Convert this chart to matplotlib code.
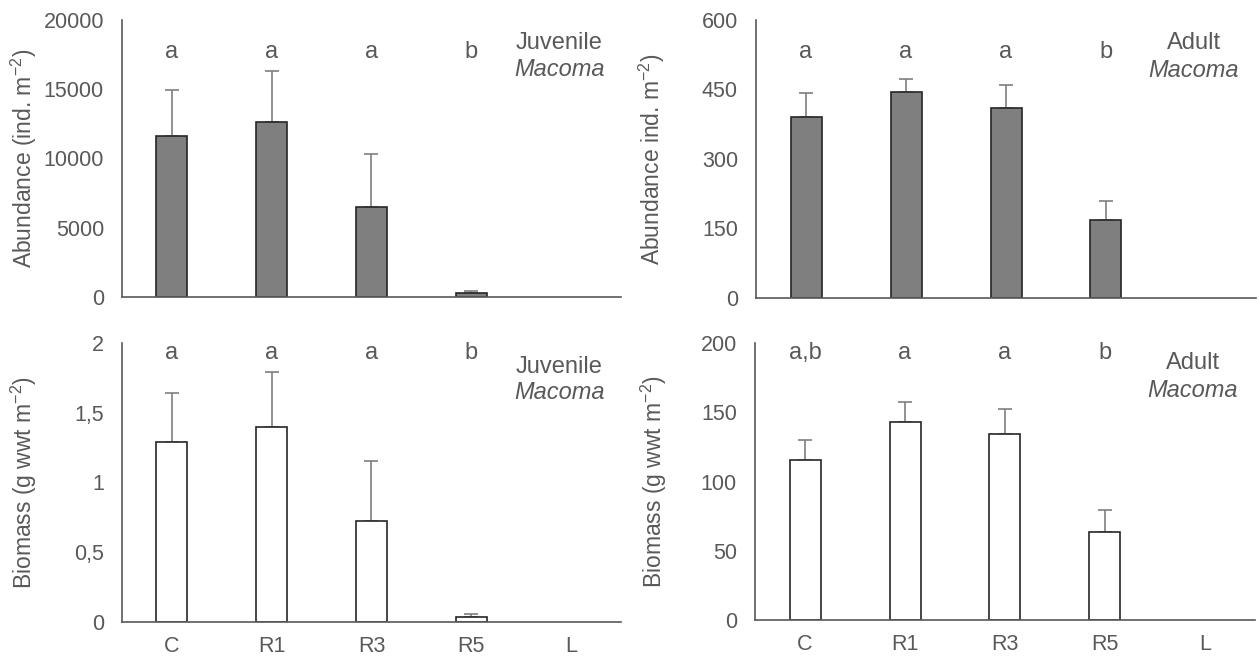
import numpy as np
import matplotlib
matplotlib.use("Agg")
import matplotlib.pyplot as plt

plt.rcParams['font.family'] = ['Liberation Sans', 'DejaVu Sans']
plt.rcParams['mathtext.default'] = 'regular'

sites = ['C', 'R1', 'R3', 'R5', 'L']

# juvenile abundance (ind. m-2), mean and upper error
juv_abund = [11650, 12600, 6480, 270]
juv_abund_err = [3280, 3740, 3850, 160]
juv_abund_letters = ['a', 'a', 'a', 'b']

# adult abundance
ad_abund = [390, 445, 411, 168]
ad_abund_err = [53, 28, 49, 42]
ad_abund_letters = ['a', 'a', 'a', 'b']

# juvenile biomass (g wwt m-2)
juv_bio = [1.29, 1.40, 0.726, 0.034]
juv_bio_err = [0.355, 0.39, 0.426, 0.023]
juv_bio_letters = ['a', 'a', 'a', 'b']
juv_bio_ticks = [0, 0.5, 1, 1.5, 2]
juv_bio_ticklabels = ['0', '0,5', '1', '1,5', '2']

# adult biomass
ad_bio = [115.5, 143, 134, 63.3]
ad_bio_err = [14.5, 14.6, 18.3, 15.9]
ad_bio_letters = ['a,b', 'a', 'a', 'b']

txt = '#595959'
fig = plt.figure(figsize=(12.59, 6.6), dpi=100)

ax1 = fig.add_axes([0.0969, 0.55, 0.3963, 0.4197])
ax2 = fig.add_axes([0.6005, 0.5485, 0.3971, 0.4212])
ax3 = fig.add_axes([0.0969, 0.0576, 0.3963, 0.4227])
ax4 = fig.add_axes([0.5997, 0.0606, 0.3971, 0.4197])


def panel(ax, vals, errs, letters, color, ylim, ticks, ylab, lab_x, let_y, name, name_y):
    x = np.arange(len(vals))
    ax.bar(x, vals, width=0.31, color=color, edgecolor='#262626', linewidth=1.2, zorder=2)
    ax.errorbar(x, vals, yerr=[np.zeros(len(errs)), errs], fmt='none',
                ecolor='#7f7f7f', elinewidth=1.2, capsize=5, capthick=1.2, zorder=1)
    ax.set_xlim(-0.5, 4.5)
    ax.set_ylim(*ylim)
    ax.set_yticks(ticks)
    ax.set_xticks(range(len(sites)))
    ax.set_xticklabels(sites)
    ax.tick_params(length=0, labelsize=15.5, labelcolor=txt)
    ax.tick_params(axis='y', pad=13)
    ax.tick_params(axis='x', pad=10)
    for s in ['top', 'right']:
        ax.spines[s].set_visible(False)
    for s in ['left', 'bottom']:
        ax.spines[s].set_color('#595959')
        ax.spines[s].set_linewidth(1.2)
    ax.set_ylabel(ylab, fontsize=16.5, color=txt)
    ax.yaxis.set_label_coords(lab_x, 0.5)
    tr = ax.get_xaxis_transform()
    for i, l in enumerate(letters):
        ax.text(i, let_y, l, transform=tr, ha='center', va='center', fontsize=17, color=txt)
    ax.text(3.88, name_y[0], name, transform=tr, ha='center', va='center', fontsize=17, color=txt)
    ax.text(3.88, name_y[1], 'Macoma', transform=tr, ha='center', va='center', fontsize=17,
            color=txt, style='italic')


panel(ax1, juv_abund, juv_abund_err, juv_abund_letters, '#7f7f7f', (0, 20000),
      [0, 5000, 10000, 15000, 20000], 'Abundance (ind. m$^{-2}$)', -0.166, 0.885,
      'Juvenile', (0.917, 0.82))
ax1.set_xticklabels([])

panel(ax2, ad_abund, ad_abund_err, ad_abund_letters, '#7f7f7f', (0, 600),
      [0, 150, 300, 450, 600], 'Abundance ind. m$^{-2}$)', -0.178, 0.885,
      'Adult', (0.917, 0.82))
ax2.set_xticklabels([])

panel(ax3, juv_bio, juv_bio_err, juv_bio_letters, 'white', (0, 2),
      juv_bio_ticks, 'Biomass (g wwt m$^{-2}$)', -0.166, 0.964,
      'Juvenile', (0.914, 0.821))
ax3.set_yticklabels(juv_bio_ticklabels)

panel(ax4, ad_bio, ad_bio_err, ad_bio_letters, 'white', (0, 200),
      [0, 50, 100, 150, 200], 'Biomass (g wwt m$^{-2}$)', -0.172, 0.964,
      'Adult', (0.928, 0.827))

fig.savefig('out.png', dpi=100)
